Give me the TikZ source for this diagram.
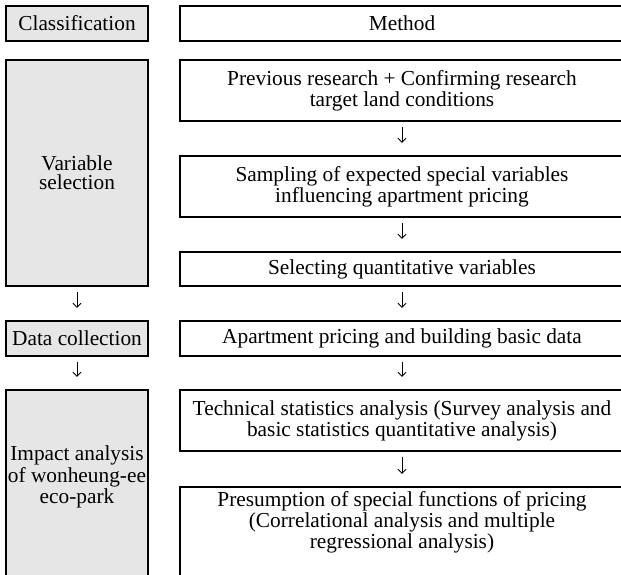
\documentclass[tikz,border=0pt]{standalone}
\usepackage{fontspec}
\setmainfont{Liberation Serif}
\usetikzlibrary{arrows.meta}
\definecolor{catgray}{RGB}{230,230,230}

\begin{document}
\begin{tikzpicture}[x=0.6pt,y=-0.6pt,>={Straight Barb[length=2.4pt,width=5pt]},
        font=\fontsize{12.8}{11.4}\selectfont,
        catbox/.style={draw,line width=0.9pt,fill=catgray,minimum width=85.2pt,align=center},
        methbox/.style={draw,line width=0.9pt,fill=white,minimum width=266.4pt,align=center},
        flow/.style={->,line width=0.5pt,shorten <=3pt,shorten >=7.5pt}]
        \useasboundingbox (0,0) rectangle (621,574);
        \clip (0,0) rectangle (621,574);
        % header row
        \node[catbox,minimum height=21pt] (cls) at (77,23.5) {Classification};
        \node[methbox,minimum height=21pt] (meth) at (402,23.5) {Method};
        % variable selection
        \node[catbox,minimum height=135.6pt] (varsel) at (77,173) {Variable\\selection};
        \node[methbox,minimum height=36.6pt] (prev) at (402,90.5) {Previous research + Confirming research\\target land conditions};
        \node[methbox,minimum height=36.6pt] (samp) at (402,186.5) {Sampling of expected special variables\\influencing apartment pricing};
        \node[methbox,minimum height=20.4pt] (selq) at (402,269) {Selecting quantitative variables};
        % data collection
        \node[catbox,minimum height=21pt] (datac) at (77,338.5) {Data collection};
        \node[methbox,minimum height=21pt] (apt) at (402,338.5) {Apartment pricing and building basic data};
        % impact analysis
        \node[catbox,minimum height=132pt] (impact) at (77,500) {};
        \node[align=center] (impacttxt) at (77,477) {Impact analysis\\of wonheung-ee\\eco-park};
        \node[methbox,minimum height=36.6pt] (tech) at (402,420.5) {Technical statistics analysis (Survey analysis and\\basic statistics quantitative analysis)};
        \node[methbox,minimum height=73.8pt] (pres) at (402,548.5) {};
        \node[align=center] (prestxt) at (402,522) {Presumption of special functions of pricing\\(Correlational analysis and multiple\\regressional analysis)};
        % arrows
        \draw[flow] (varsel) -- (datac);
        \draw[flow] (datac) -- (impact);
        \draw[flow] (prev) -- (samp);
        \draw[flow] (samp) -- (selq);
        \draw[flow] (selq) -- (apt);
        \draw[flow] (apt) -- (tech);
        \draw[flow] (tech) -- (pres);
    \end{tikzpicture}
\end{document}
